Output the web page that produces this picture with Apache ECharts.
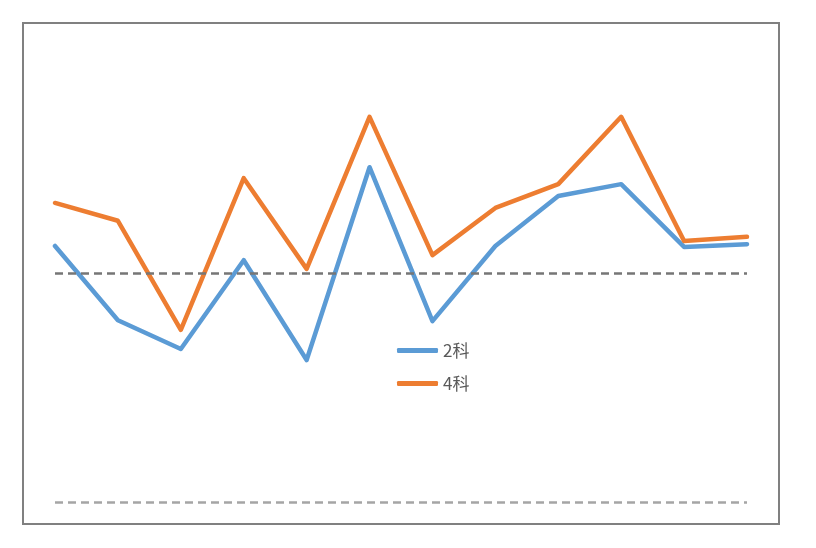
<!DOCTYPE html>
<html>
<head>
<meta charset="utf-8">
<script src="https://cdn.jsdelivr.net/npm/echarts@6/dist/echarts.min.js"></script>
<style>html,body{margin:0;padding:0;background:#fff;}#main{width:816px;height:548px;}</style>
</head>
<body>
<div id="main"></div>
<script>
const categories = ['1','2','3','4','5','6','7','8','9','10','11','12'];
const series2 = [55.9, 39.7, 33.4, 52.8, 31.0, 73.1, 39.5, 55.9, 66.8, 69.4, 55.7, 56.3];
const series4 = [65.3, 61.4, 37.6, 70.7, 50.9, 84.1, 53.9, 64.2, 69.4, 84.1, 57.0, 57.9];
const seriesNames = ['2科', '4科'];
const refLines = [50, 0];

const chart = echarts.init(document.getElementById('main'));
chart.setOption({
  animation: false,
  backgroundColor: '#fff',
  graphic: [{
    type: 'rect',
    shape: { x: 23, y: 23, width: 756, height: 501 },
    style: { fill: 'none', stroke: '#808080', lineWidth: 2 },
    z: 0
  }],
  grid: { left: 55, right: 69, top: 44, bottom: 46 },
  legend: {
    orient: 'vertical',
    left: 397, top: 342, padding: 0,
    icon: 'roundRect',
    itemWidth: 41, itemHeight: 5, itemGap: 16,
    textStyle: { fontSize: 17, color: '#595959', fontFamily: 'Noto Sans CJK JP' },
    data: seriesNames
  },
  xAxis: {
    type: 'category', data: categories, boundaryGap: false,
    axisLine: { show: false }, axisTick: { show: false }, axisLabel: { show: false }, splitLine: { show: false }
  },
  yAxis: {
    type: 'value', min: 0, max: 100,
    axisLine: { show: false }, axisTick: { show: false }, axisLabel: { show: false }, splitLine: { show: false }
  },
  series: [
    {
      name: seriesNames[0], type: 'line', data: series2, symbol: 'none',
      lineStyle: { width: 4.5, color: '#5B9BD5', cap: 'round', join: 'round' }, itemStyle: { color: '#5B9BD5' },
      markLine: {
        silent: true, symbol: 'none', label: { show: false },
        data: [
          { yAxis: refLines[0], lineStyle: { color: '#767676', type: [8, 5], width: 2.5 } },
          { yAxis: refLines[1], lineStyle: { color: '#a5a5a5', type: [8, 5], width: 2.5 } }
        ]
      }
    },
    {
      name: seriesNames[1], type: 'line', data: series4, symbol: 'none',
      lineStyle: { width: 4.5, color: '#ED7D31', cap: 'round', join: 'round' }, itemStyle: { color: '#ED7D31' }
    }
  ]
});
</script>
</body>
</html>
